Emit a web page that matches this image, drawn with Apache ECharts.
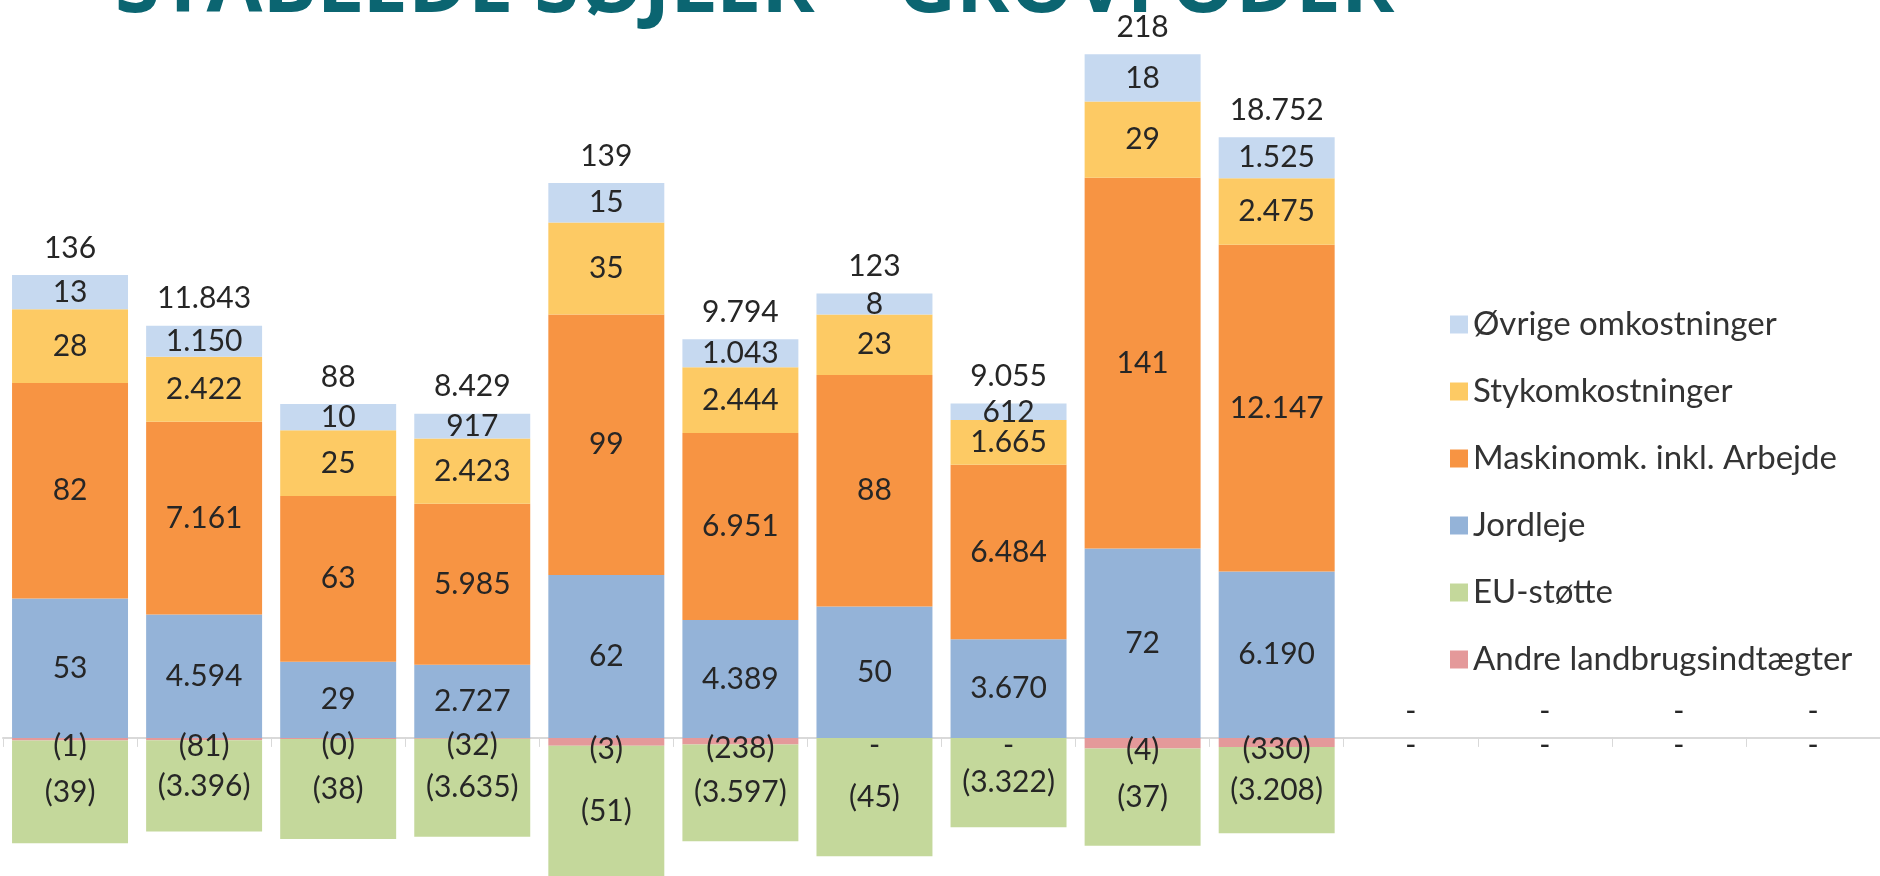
<!DOCTYPE html>
<html>
<head>
<meta charset="utf-8">
<title>Stablede søjler – grovfoder</title>
<script src="https://cdn.jsdelivr.net/npm/echarts@6/dist/echarts.min.js"></script>
<style>
    html, body { margin: 0; padding: 0; background: #fff; }
    #main { width: 1880px; height: 876px; }
</style>
</head>
<body>
<div id="main"></div>
<script>
// kategorier - ulige søjler på venstre akse, lige søjler på højre akse (100x større enhed)
var categories = ['1', '2', '3', '4', '5', '6', '7', '8', '9', '10', '11', '12', '13', '14'];
var axisOf = [0, 1, 0, 1, 0, 1, 0, 1, 0, 1, 0, 0, 0, 0];

var ovrige   = [13, 1150, 10, 917, 15, 1043, 8, 612, 18, 1525, null, null, null, null];
var stykomk  = [28, 2422, 25, 2423, 35, 2444, 23, 1665, 29, 2475, null, null, null, null];
var maskin   = [82, 7161, 63, 5985, 99, 6951, 88, 6484, 141, 12147, null, null, null, null];
var jordleje = [53, 4594, 29, 2727, 62, 4389, 50, 3670, 72, 6190, null, null, null, null];
var euStotte = [-39, -3396, -38, -3635, -51, -3597, -45, -3322, -37, -3208, null, null, null, null];
var andre    = [-1, -81, -0.4, -32, -3, -238, 0, 0, -4, -330, 0, 0, 0, 0];
var totaler  = [136, 11843, 88, 8429, 139, 9794, 123, 9055, 218, 18752, 0, 0, 0, 0];

var parts = [
    { name: 'Andre landbrugsindtægter', data: andre, color: '#e4999a', offset: [0, 7] },
    { name: 'EU-støtte', data: euStotte, color: '#c4d89b' },
    { name: 'Jordleje', data: jordleje, color: '#94b3d8' },
    { name: 'Maskinomk. inkl. Arbejde', data: maskin, color: '#f79443' },
    { name: 'Stykomkostninger', data: stykomk, color: '#fdca64' },
    { name: 'Øvrige omkostninger', data: ovrige, color: '#c6d9f0' }
];

// dansk talformat: 1.234 og (39) for negative
function fmt(v) {
    if (v === 0) return '-';
    var s = Math.round(Math.abs(v)).toString().replace(/\B(?=(\d{3})+(?!\d))/g, '.');
    return v < 0 ? '(' + s + ')' : s;
}

function onAxis(arr, a) {
    return arr.map(function (v, i) { return axisOf[i] === a ? v : null; });
}

var labelFont = { fontFamily: 'Lato', fontSize: 30, color: '#262626' };

var series = [];
parts.forEach(function (p) {
    [0, 1].forEach(function (a) {
        series.push({
            name: p.name,
            type: 'bar',
            stack: 'alle',
            yAxisIndex: a,
            barCategoryGap: '13.5%',
            itemStyle: { color: p.color },
            label: {
                show: true,
                position: 'inside',
                offset: p.offset || [0, 0],
                fontFamily: labelFont.fontFamily,
                fontSize: labelFont.fontSize,
                color: labelFont.color,
                formatter: function (o) { return fmt(o.value); }
            },
            data: onAxis(p.data, a)
        });
    });
});

// usynlig serie oven på stakken til totalen
[0, 1].forEach(function (a) {
    series.push({
        name: 'Total',
        type: 'bar',
        stack: 'alle',
        yAxisIndex: a,
        itemStyle: { color: 'transparent' },
        label: {
            show: true,
            position: 'top',
            distance: 12,
            fontFamily: labelFont.fontFamily,
            fontSize: labelFont.fontSize,
            color: labelFont.color,
            formatter: function (o) { return fmt(totaler[o.dataIndex]); }
        },
        data: onAxis(totaler, a).map(function (v) { return v === null ? null : 0; })
    });
});

var chart = echarts.init(document.getElementById('main'));
var option = {
    animation: false,
    title: {
        text: 'STABLEDE SØJLER – GROVFODER',
        left: 115,
        top: -52,
        padding: 0,
        textStyle: { fontFamily: 'Open Sans', fontWeight: 'bold', fontSize: 81, color: '#0b6571' }
    },
    legend: {
        data: ['Øvrige omkostninger', 'Stykomkostninger', 'Maskinomk. inkl. Arbejde', 'Jordleje', 'EU-støtte', 'Andre landbrugsindtægter'],
        orient: 'vertical',
        left: 1445,
        top: 303,
        icon: 'rect',
        itemWidth: 18,
        itemHeight: 18,
        itemGap: 34,
        selectedMode: false,
        textStyle: { fontFamily: 'Lato', fontSize: 33, lineHeight: 31, color: '#333' }
    },
    grid: { left: 3, right: 0, top: 0, bottom: 0 },
    xAxis: {
        type: 'category',
        data: categories,
        axisLine: { lineStyle: { color: '#d9d9d9', width: 2 } },
        axisTick: { show: true, length: 9, lineStyle: { color: '#d9d9d9' } },
        axisLabel: { show: false }
    },
    yAxis: [
        { type: 'value', min: -52.5, max: 280.6, show: false, splitLine: { show: false } },
        { type: 'value', min: -5130, max: 27435, show: false, splitLine: { show: false } }
    ],
    series: series
};
chart.setOption(option);
</script>
</body>
</html>
